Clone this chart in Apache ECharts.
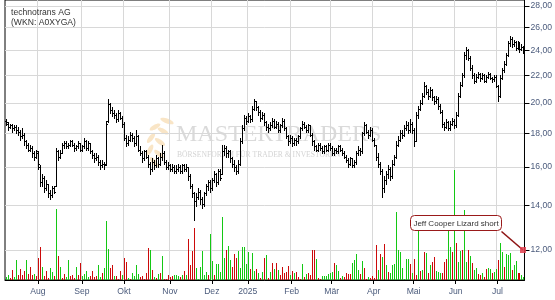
<!DOCTYPE html>
<html><head><meta charset="utf-8">
<script src="https://cdn.jsdelivr.net/npm/echarts@6/dist/echarts.min.js"></script>
<style>html,body{margin:0;padding:0;background:#fff}#c{width:555px;height:300px}</style>
</head><body><div id="c"></div>
<script>
// ---------- data ----------
const titleLines = ['technotrans AG', '(WKN: A0XYGA)'];
const firstDay = '2024-07-10';
const lastDay = '2025-07-18';
const holidays = ['2024-12-24','2024-12-25','2024-12-26','2024-12-31','2025-01-01','2025-04-18','2025-04-21','2025-05-01'];
const monthNames = ['Jan','Feb','Mär','Apr','Mai','Jun','Jul','Aug','Sep','Okt','Nov','Dez'];
const yTicks = [12,14,16,18,20,22,24,26,28];
const priceRange = [10.81, 28.59];
// [open, high, low, close]
const priceBars = [
[18.8,18.9,18.5,18.7],[18.6,18.7,18.2,18.4],[18.4,18.6,18.3,18.5],[18.5,18.6,18.1,18.3],[18.3,18.5,18.2,18.4],
[18.4,18.5,18.0,18.2],[18.2,18.4,17.9,18.1],[18.1,18.2,17.6,17.8],[17.8,18.3,17.7,17.9],[17.9,18.0,17.3,17.5],
[17.5,17.6,17.1,17.3],[17.3,17.4,16.9,17.0],[17.0,17.3,16.9,17.1],[17.1,17.2,16.6,16.8],[16.8,16.9,16.4,16.6],
[16.6,17.0,16.5,16.9],[16.8,16.9,15.9,16.2],[16.0,16.1,15.0,15.2],[15.2,15.6,15.0,15.4],[15.4,15.5,14.7,14.9],
[14.9,15.3,14.8,15.1],[15.1,15.1,14.4,14.6],[14.6,14.8,14.3,14.5],[14.5,15.0,14.4,14.9],[14.9,15.0,14.6,14.7],
[15.0,17.1,15.0,16.9],[16.9,17.0,16.4,16.6],[16.6,17.0,16.5,16.8],[16.8,17.4,16.8,17.3],[17.3,17.5,17.1,17.4],
[17.4,17.5,17.1,17.2],[17.2,17.4,17.1,17.3],[17.3,17.6,17.2,17.5],[17.5,17.6,17.2,17.3],[17.3,17.4,16.9,17.1],
[17.1,17.3,17.0,17.2],[17.2,17.5,17.1,17.4],[17.4,17.4,16.9,17.0],[17.0,17.3,16.9,17.2],[17.2,17.7,17.1,17.5],
[17.5,17.6,17.0,17.1],[17.1,17.5,17.0,17.4],[17.4,17.4,16.8,16.9],[16.9,17.0,16.5,16.7],[16.7,16.8,16.3,16.5],
[16.5,16.8,16.4,16.6],[16.6,16.7,16.1,16.3],[16.3,16.4,15.9,16.1],[16.1,16.4,16.0,16.2],[16.2,16.3,15.9,16.1],
[16.2,18.8,16.1,18.6],[18.8,20.3,18.7,19.9],[19.9,20.0,19.3,19.5],[19.5,19.7,19.1,19.3],[19.3,19.5,19.0,19.2],
[19.2,19.3,18.7,18.9],[18.9,19.5,18.8,19.3],[19.3,19.4,18.9,19.0],[19.0,19.1,18.4,18.6],[18.6,18.7,17.6,17.7],
[17.7,17.9,17.2,17.4],[17.4,17.8,17.3,17.6],[17.6,18.1,17.5,17.9],[17.9,18.0,17.5,17.7],[17.7,17.8,17.2,17.4],
[17.4,18.2,17.3,17.8],[17.8,17.9,16.9,17.0],[17.0,17.2,16.7,16.8],[16.8,16.9,16.3,16.5],[16.5,17.0,16.4,16.9],
[16.9,17.0,16.5,16.6],[16.6,16.7,16.0,16.2],[16.2,16.3,15.6,15.9],[15.9,16.5,15.8,16.3],[16.3,16.4,15.9,16.1],
[16.1,16.7,16.0,16.5],[16.5,16.6,16.0,16.2],[16.2,16.8,16.1,16.6],[16.6,17.3,16.4,16.8],[16.8,16.9,16.2,16.3],
[16.3,16.4,15.9,16.0],[16.0,16.3,15.9,16.1],[16.1,16.2,15.8,15.9],[15.9,16.2,15.8,16.0],[16.0,16.1,15.7,15.8],
[15.8,16.1,15.7,15.9],[15.9,16.2,15.8,16.0],[16.0,16.1,15.7,15.8],[15.8,16.2,15.7,16.1],[16.1,16.2,15.8,15.9],
[15.9,16.2,15.8,16.0],[16.0,16.0,15.3,15.5],[15.5,15.6,14.9,15.0],[15.0,15.1,14.4,14.6],[14.6,14.7,13.3,14.2],
[14.2,14.6,14.0,14.4],[14.4,14.9,14.3,14.7],[14.7,14.8,14.1,14.3],[14.3,14.4,13.9,14.1],[14.1,14.7,14.0,14.6],
[14.6,15.1,14.5,15.0],[15.0,15.3,14.8,15.2],[15.2,15.3,14.7,14.9],[14.9,15.4,14.8,15.3],[15.3,15.8,15.2,15.6],
[15.6,15.7,15.0,15.2],[15.2,15.9,15.1,15.8],[15.8,15.9,15.3,15.4],[15.6,17.3,15.6,16.9],[16.9,17.3,16.7,17.1],
[17.1,17.2,16.6,16.8],[16.8,17.0,16.6,16.9],[16.9,17.0,16.3,16.5],[16.5,16.6,16.0,16.2],[16.2,16.4,15.8,16.0],
[16.0,16.1,15.6,15.8],[15.8,16.4,15.7,16.2],[16.2,17.7,16.1,17.5],[17.5,18.5,17.4,18.3],[18.3,19.2,18.2,19.0],
[19.0,19.1,18.6,18.8],[18.8,19.3,18.7,19.1],[19.1,19.2,18.7,18.9],[18.9,19.8,18.8,19.6],[19.6,20.3,19.5,20.1],
[20.1,20.1,19.5,19.7],[19.7,19.8,19.2,19.4],[19.4,19.5,18.8,19.0],[19.0,19.4,18.9,19.2],[19.2,19.3,18.5,18.7],
[18.7,18.8,18.2,18.4],[18.4,18.6,18.1,18.3],[18.3,18.7,18.2,18.5],[18.5,19.0,18.4,18.8],[18.8,18.9,18.3,18.4],
[18.4,18.8,18.3,18.6],[18.6,18.7,18.1,18.2],[18.2,18.6,18.1,18.5],[18.5,19.0,18.4,18.8],[18.8,18.9,18.2,18.3],
[18.3,18.4,17.7,17.8],[17.8,17.9,17.3,17.5],[17.5,17.9,17.4,17.7],[17.7,17.8,17.2,17.4],[17.4,17.7,17.3,17.6],
[17.6,17.7,17.3,17.5],[17.5,17.9,17.4,17.8],[17.8,18.4,17.7,18.3],[18.3,18.8,18.2,18.6],[18.6,18.7,18.3,18.4],
[18.4,18.5,18.1,18.2],[18.2,18.6,18.1,18.5],[18.5,18.5,17.8,17.9],[17.9,18.0,17.3,17.5],[17.5,17.6,17.0,17.2],
[17.2,17.3,16.9,17.0],[17.0,17.4,16.9,17.3],[17.3,17.4,17.0,17.1],[17.1,17.2,16.8,16.9],[16.9,17.3,16.8,17.2],
[17.2,17.3,16.9,17.0],[17.0,17.4,16.9,17.3],[17.3,17.4,17.0,17.1],[17.1,17.2,16.7,16.8],[16.8,17.1,16.7,17.0],
[17.0,17.1,16.8,16.9],[16.9,17.3,16.8,17.2],[17.2,17.3,16.9,17.0],[17.0,17.1,16.7,16.8],[16.8,16.9,16.5,16.6],
[16.6,16.7,16.3,16.4],[16.4,16.5,16.0,16.2],[16.2,16.6,16.1,16.5],[16.5,16.5,16.0,16.1],[16.1,16.4,16.0,16.3],
[16.3,16.9,16.2,16.8],[16.8,17.2,16.7,17.0],[17.0,17.1,16.7,16.9],[16.9,18.1,16.8,18.0],[18.0,18.7,17.9,18.5],
[18.5,18.6,18.0,18.1],[18.1,18.2,17.7,17.9],[17.9,18.4,17.8,18.2],[18.2,18.3,17.5,17.6],[17.6,17.7,17.2,17.3],
[17.3,17.3,16.4,16.6],[16.6,16.8,16.0,16.2],[16.2,16.3,15.6,15.8],[15.8,15.9,14.4,14.9],[14.9,15.5,14.7,15.3],
[15.3,15.8,15.1,15.6],[15.6,16.1,15.4,15.9],[15.9,16.0,15.3,15.5],[15.5,16.4,15.4,16.2],[16.2,16.7,16.1,16.6],
[16.6,17.5,16.5,17.3],[17.3,17.8,17.2,17.6],[17.6,18.2,17.5,18.0],[18.0,18.2,17.7,17.9],[17.9,18.5,17.8,18.3],
[18.3,18.8,18.2,18.5],[18.5,18.7,18.0,18.2],[18.2,18.9,18.1,18.6],[18.6,18.7,18.0,18.2],[18.2,18.3,17.2,17.5],
[17.5,19.4,17.5,19.2],[19.2,19.8,19.0,19.6],[19.6,20.2,19.5,20.0],[20.0,20.7,19.9,20.5],[20.5,21.5,20.4,21.2],
[21.2,21.3,20.6,20.8],[20.8,21.0,20.3,20.5],[20.5,21.1,20.4,20.9],[20.9,21.0,20.2,20.4],[20.4,20.5,19.9,20.1],
[20.1,20.5,20.0,20.3],[20.3,20.4,19.6,19.8],[19.8,19.9,19.3,19.4],[19.4,19.5,18.4,18.6],[18.6,18.7,18.2,18.4],
[18.4,18.9,18.3,18.7],[18.7,18.8,18.2,18.3],[18.3,18.8,18.2,18.6],[18.6,19.0,18.5,18.8],[18.8,18.9,18.3,18.5],
[18.5,19.4,18.4,19.2],[19.2,20.7,19.1,20.5],[20.5,21.5,20.4,21.3],[21.3,22.2,21.2,22.0],[22.0,23.9,21.9,23.6],
[23.6,24.3,23.3,24.0],[24.0,24.1,23.2,23.4],[23.4,23.5,22.4,22.6],[22.6,22.8,21.8,22.0],[22.0,22.2,21.4,21.6],
[21.6,22.1,21.5,21.9],[21.9,22.3,21.8,22.1],[22.1,22.2,21.6,21.8],[21.8,22.2,21.7,22.0],[22.0,22.1,21.5,21.6],
[21.6,22.0,21.5,21.9],[21.9,22.3,21.8,22.1],[22.1,22.2,21.7,21.8],[21.8,21.9,21.5,21.7],[21.7,22.0,21.6,21.9],
[21.9,22.0,21.1,21.2],[21.2,21.3,20.1,20.5],[20.5,22.0,20.4,21.8],[21.8,22.6,21.7,22.4],[22.4,23.1,22.3,22.9],
[22.9,23.8,22.8,23.6],[23.6,24.8,23.5,24.6],[24.6,25.2,24.4,25.0],[25.0,25.1,24.3,24.5],[24.5,24.9,24.4,24.7],
[24.7,24.8,24.0,24.2],[24.2,24.8,24.1,24.6],[24.6,24.7,23.9,24.1],[24.1,24.5,24.0,24.3],[24.3,24.4,23.8,24.0]
];
const volumes = [
3,5,2,10,3,20,5,11,5,9, 20,6,13,5,6,4,22,33,13,4, 9,2,12,8,4,71,24,13,2,6, 3,20,4,5,2,13,5,17,4,6,
9,3,4,9,3,4,15,3,7,12, 59,31,12,15,4,4,1,9,5,22, 18,2,1,7,4,15,6,3,4,1, 7,32,30,10,3,2,6,7,24,1,
1,5,3,4,5,5,4,3,5,9, 5,41,15,29,52,12,1,13,29,5, 8,5,46,19,5,16,16,8,63,22, 30,34,20,13,26,22,29,12,33,33,
16,28,11,27,9,11,7,2,8,22, 25,2,8,17,11,17,10,5,13,7, 8,14,5,9,7,8,3,1,16,3, 6,7,5,30,30,21,2,1,4,4,
4,6,7,8,17,15,9,2,4,3, 7,6,6,17,20,26,10,6,19,12, 1,3,2,4,2,35,10,26,23,36, 15,8,7,15,16,68,30,28,12,1,
21,21,16,7,21,5,55,9,10,28, 27,7,15,18,23,9,8,7,7,18, 21,52,33,28,110,37,18,29,30,70, 18,30,24,17,10,12,6,5,7,3,
11,12,11,7,8,11,20,37,28,13, 26,25,27,10,15,19,7,7,5,3
];
const volumeUp = [
1,1,0,0,1,1,0,0,0,0, 1,0,0,0,1,0,0,0,1,0, 0,0,1,1,0,1,0,1,0,0, 1,1,0,0,0,1,0,0,1,1,
1,1,0,0,0,0,1,1,0,1, 1,1,0,0,1,0,0,0,1,0, 0,1,0,1,1,1,1,0,0,0, 0,0,1,0,1,0,1,0,1,0,
0,0,0,0,1,1,1,0,1,0, 1,0,0,0,0,1,1,1,1,1, 1,0,1,1,0,1,1,1,1,1, 0,1,1,0,0,0,1,1,1,1,
1,1,0,1,1,0,1,0,1,0, 1,0,1,0,1,0,1,0,0,0, 0,0,1,0,1,0,0,0,1,0, 1,0,0,0,0,1,0,0,1,1,
1,1,1,1,0,1,1,0,1,0, 0,0,0,1,1,1,1,0,1,0, 0,1,0,0,0,0,1,0,1,0, 1,0,1,1,1,1,1,1,1,1,
1,1,0,1,0,0,1,0,1,0, 1,0,1,0,0,1,1,1,0,0, 0,1,1,0,1,0,1,1,0,1, 1,0,1,0,1,1,0,0,1,0,
0,1,1,0,1,1,0,1,1,0, 1,1,1,0,1,1,0,0,1,1
];
const signalText = 'Jeff Cooper Lizard short';
const signalLevel = 12;
const watermarkTitle = 'MASTERTRADERS';
const watermarkSub = 'BÖRSENFORUM FÜR TRADER & INVESTOREN';

// ---------- build ----------
function tradingDays(s, e, hol) {
  const out = [];
  const d = new Date(s + 'T12:00:00Z'), end = new Date(e + 'T12:00:00Z');
  while (d <= end) {
    const wd = d.getUTCDay(), iso = d.toISOString().slice(0, 10);
    if (wd !== 0 && wd !== 6 && hol.indexOf(iso) < 0) out.push(iso);
    d.setUTCDate(d.getUTCDate() + 1);
  }
  return out;
}
const dates = tradingDays(firstDay, lastDay, holidays);
const isMonthStart = (i) => i > 0 && dates[i].slice(5, 7) !== dates[i - 1].slice(5, 7);
const lastIdx = dates.length - 1;
const logTicks = yTicks.map(Math.log);
const GREEN = '#14c814', RED = '#cc0a0a';
const LBL = '#4b5b7c';
const FONT = 'Liberation Sans';

// faint laurel of the watermark logo (decoration only)
const leafStyle = {fill: '#f7dcb3', opacity: 0.75};
const leaves = [
  [167,121,7,2.4,-0.35],[155,127,6,2.3,0.5],[163,131,6,2.3,-0.5],[151,138,6,2.3,0.9],
  [160,142,6,2.3,-0.6],[150,150,6,2.3,1.1],[159,154,6,2.3,-0.7],[154,162,6,2.3,-0.9]
].map(l => ({type: 'ellipse', z: -11, silent: true, x: l[0], y: l[1], rotation: l[4],
  shape: {cx: 0, cy: 0, rx: l[2], ry: l[3]}, style: leafStyle}));

const chart = echarts.init(document.getElementById('c'), null, {renderer: 'canvas'});
chart.setOption({
  animation: false,
  backgroundColor: '#fff',
  grid: {left: 5, right: 30, top: 0, height: 280, show: true, borderColor: '#000', borderWidth: 1, backgroundColor: 'transparent'},
  title: {
    text: titleLines.join('\n'), left: 6, top: 3,
    textStyle: {fontFamily: FONT, fontSize: 8.6, fontWeight: 'normal', color: '#333', lineHeight: 10}
  },
  graphic: leaves.concat([
    {type: 'text', left: 176, top: 123, z: -10, silent: true,
     style: {text: watermarkTitle, font: '24px "Liberation Serif"', fill: '#dadada'}},
    {type: 'text', left: 177, top: 151, z: -10, silent: true,
     style: {text: watermarkSub, font: '7.6px "Liberation Serif"', fill: '#d4d4d4'}}
  ]),
  xAxis: {
    type: 'category', data: dates, boundaryGap: true,
    axisLine: {show: true, lineStyle: {color: '#000', width: 1}},
    axisTick: {show: true, alignWithLabel: true, interval: (i) => isMonthStart(i), length: 4, lineStyle: {color: '#000'}},
    axisLabel: {
      interval: (i) => isMonthStart(i), margin: 7, color: LBL, fontFamily: FONT, fontSize: 8.6,
      formatter: (v) => { const m = +v.slice(5, 7); return m === 1 ? v.slice(0, 4) : monthNames[m - 1]; }
    },
    splitLine: {show: true, interval: (i) => isMonthStart(i), lineStyle: {color: '#d8d8d8', width: 1}}
  },
  yAxis: [{
    type: 'value', position: 'right', min: Math.log(priceRange[0]), max: Math.log(priceRange[1]),
    axisLine: {show: true, lineStyle: {color: '#000', width: 1}},
    axisTick: {show: true, customValues: logTicks, length: 5, lineStyle: {color: '#000'}},
    axisLabel: {customValues: logTicks, margin: 6, color: LBL, fontFamily: FONT, fontSize: 8.6,
      formatter: (v) => Math.exp(v).toFixed(2).replace('.', ',')},
    splitLine: {show: true, lineStyle: {color: '#d8d8d8', width: 1}}
  }, {
    type: 'value', min: 0, max: 280, show: false
  }],
  series: [{
    type: 'custom', name: 'Volumen', xAxisIndex: 0, yAxisIndex: 1, z: 2,
    data: volumes.map((v, i) => [i, v, volumeUp[i]]),
    encode: {x: 0, y: 1},
    renderItem: (params, api) => {
      const i = api.value(0);
      const top = api.coord([i, api.value(1)]);
      const base = api.coord([i, 0]);
      const x = Math.round(top[0]);
      return {type: 'rect', shape: {x: x, y: top[1], width: 1, height: base[1] - top[1]},
        style: {fill: api.value(2) ? GREEN : RED}};
    }
  }, {
    type: 'custom', name: 'Kurs', xAxisIndex: 0, yAxisIndex: 0, z: 3,
    data: priceBars.map((b, i) => [i, Math.log(b[0]), Math.log(b[1]), Math.log(b[2]), Math.log(b[3])]),
    encode: {x: 0, y: [1, 2, 3, 4]},
    renderItem: (params, api) => {
      const i = api.value(0);
      const pO = api.coord([i, api.value(1)]);
      const pH = api.coord([i, api.value(2)]);
      const pL = api.coord([i, api.value(3)]);
      const pC = api.coord([i, api.value(4)]);
      const x = Math.round(pO[0]) + 0.5;
      const yo = Math.round(pO[1]) + 0.5, yc = Math.round(pC[1]) + 0.5;
      const st = {stroke: '#000', lineWidth: 1};
      return {type: 'group', children: [
        {type: 'line', shape: {x1: x, y1: Math.round(pH[1]), x2: x, y2: Math.round(pL[1]) + 1}, style: st},
        {type: 'line', shape: {x1: x - 1.5, y1: yo, x2: x, y2: yo}, style: st},
        {type: 'line', shape: {x1: x, y1: yc, x2: x + 1.5, y2: yc}, style: st}
      ]};
    }
  }, {
    type: 'custom', name: 'Signal', xAxisIndex: 0, yAxisIndex: 0, z: 5, clip: false,
    data: [[lastIdx, Math.log(signalLevel)]],
    encode: {x: 0, y: 1},
    renderItem: (params, api) => {
      const p = api.coord([api.value(0), api.value(1)]);
      const px = Math.round(p[0]), py = Math.round(p[1]);
      const bx = px - 112.5, by = py - 34.5, bw = 91, bh = 15;
      return {type: 'group', children: [
        {type: 'line', shape: {x1: bx + bw, y1: by + bh + 1, x2: px, y2: py}, style: {stroke: '#8e1414', lineWidth: 1.6}},
        {type: 'rect', shape: {x: bx, y: by, width: bw, height: bh, r: 4}, style: {fill: '#fff', stroke: '#9a1a1a', lineWidth: 1}},
        {type: 'text', x: bx + bw / 2, y: by + bh / 2 + 0.5,
         style: {text: signalText, fill: '#333', font: '8px "Liberation Sans"', align: 'center', verticalAlign: 'middle'}},
        {type: 'rect', shape: {x: px - 3, y: py - 3, width: 6, height: 6}, style: {fill: '#e0404f', opacity: 0.85}}
      ]};
    }
  }]
});
</script>
</body></html>
